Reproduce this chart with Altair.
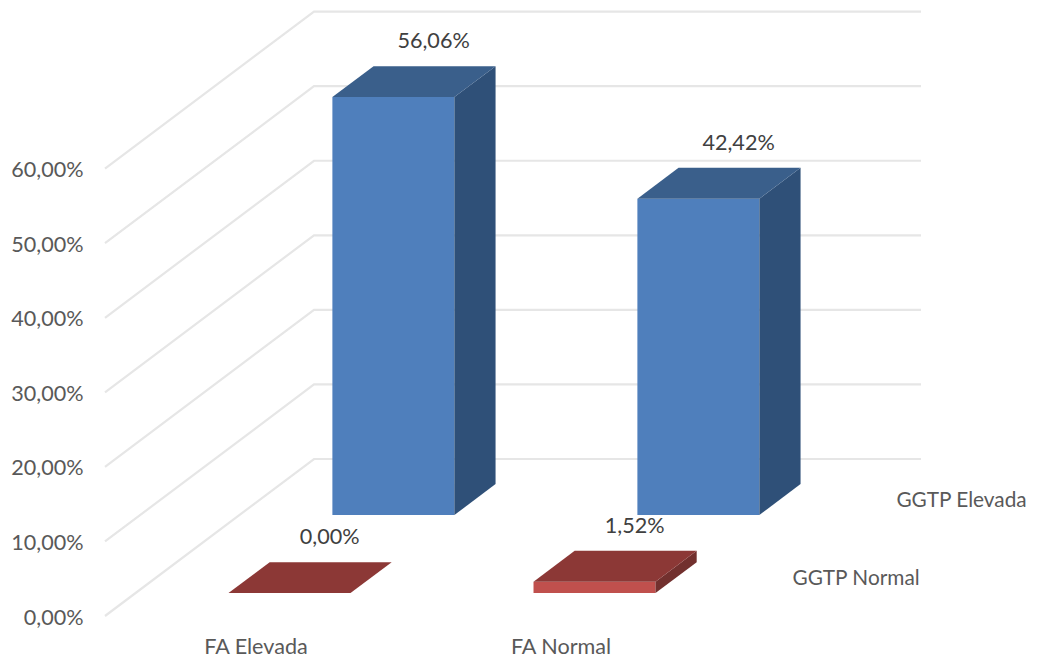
import altair as alt
import pandas as pd

# values
categories = ["FA Elevada", "FA Normal"]
series = ["GGTP Normal", "GGTP Elevada"]
normal_values = [0.00, 1.52]
elevada_values = [56.06, 42.42]
axis_ticks = [0, 10, 20, 30, 40, 50, 60]

# oblique projection of the 3-D scene
PX_PER_PCT = 7.456
FLOOR_Y = 616
WALL_DX, WALL_DY = 209, 157
FLOOR_LEFT, RIGHT_END = 105, 921
CAT_X = [198, 503]
BAR_W = 122
ROW_DEPTH = [0.146, 0.643]
BAR_DEPTH = 0.197
FONT = "Lato"
FONT_SIZE = 21.6
SERIES_FONT_SIZE = 20.8

def px(x, d):
    return x + WALL_DX * d

def val(v, d):
    return v + WALL_DY * d / PX_PER_PCT

faces = []
labels = []
PALETTE = [
    {"front": "#C0504D", "top": "#8C3836", "side": "#72302E"},
    {"front": "#4F7FBC", "top": "#3A5F8B", "side": "#2F5078"},
]

def add_face(fid, color, pts):
    for x, y, y2 in pts:
        faces.append({"fid": fid, "color": color, "x": x, "y": y, "y2": y2})

for r, vals in enumerate([normal_values, elevada_values]):
    d0 = ROW_DEPTH[r]
    d1 = d0 + BAR_DEPTH
    for c, v in enumerate(vals):
        xl, xr = CAT_X[c], CAT_X[c] + BAR_W
        key = f"{r}{c}"
        pal = PALETTE[r]
        if v > 0:
            add_face(key + "a", pal["front"], [
                (px(xl, d0), val(v, d0), val(0, d0)),
                (px(xr, d0), val(v, d0), val(0, d0)),
            ])
            add_face(key + "b", pal["side"], [
                (px(xr, d0), val(v, d0), val(0, d0)),
                (px(xr, d1), val(v, d1), val(0, d1)),
            ])
        add_face(key + "c", pal["top"], [
            (px(xl, d0), val(v, d0), val(v, d0)),
            (px(xl, d1), val(v, d1), val(v, d0)),
            (px(xr, d0), val(v, d1), val(v, d0)),
            (px(xr, d1), val(v, d1), val(v, d1)),
        ])
        labels.append({
            "x": px((xl + xr) / 2, d1),
            "y": val(v, d1),
            "t": f"{v:.2f}".replace(".", ",") + "%",
        })

grid = []
for v in axis_ticks:
    for i, (x, y) in enumerate([
        (FLOOR_LEFT, val(v, 0)),
        (FLOOR_LEFT + WALL_DX, val(v, 1)),
        (RIGHT_END, val(v, 1)),
    ]):
        grid.append({"v": v, "i": i, "x": x, "y": y})

cat_labels = [
    {"x": CAT_X[c] + BAR_W / 2 - 3, "y": -4.25, "t": t} for c, t in enumerate(categories)
]
ser_labels = [
    {"x": px(762, ROW_DEPTH[r]), "y": val(1.85, ROW_DEPTH[r]), "t": t} for r, t in enumerate(series)
]

X = alt.X("x:Q", scale=alt.Scale(domain=[92, 1029], nice=False, zero=False), axis=None)
Y = alt.Y(
    "y:Q",
    scale=alt.Scale(domain=[(FLOOR_Y - 658) / PX_PER_PCT, (FLOOR_Y - 8) / PX_PER_PCT], nice=False, zero=False),
    title=None,
    axis=alt.Axis(
        values=axis_ticks,
        labelExpr="replace(format(datum.value,'.2f'),'.',',')+'%'",
        domain=False,
        ticks=False,
        grid=False,
        labelPadding=9,
        labelOffset=2,
        labelFontSize=FONT_SIZE,
        labelFont=FONT,
        labelColor="#595959",
    ),
)

grid_layer = alt.Chart(pd.DataFrame(grid)).mark_line(
    color="#E6E6E6", strokeWidth=2.2, interpolate="linear"
).encode(x=X, y=Y, detail="v:N", order="i:Q")

face_layer = alt.Chart(pd.DataFrame(faces)).mark_area(interpolate="linear", opacity=1).encode(
    x=X,
    y=Y,
    y2="y2:Q",
    detail="fid:N",
    color=alt.Color("color:N", scale=None, legend=None),
)

data_text = alt.Chart(pd.DataFrame(labels)).mark_text(
    font=FONT, fontSize=FONT_SIZE, color="#404040", dy=-24, dx=-1
).encode(x=X, y=Y, text="t:N")

cat_text = alt.Chart(pd.DataFrame(cat_labels)).mark_text(
    font=FONT, fontSize=FONT_SIZE, color="#595959"
).encode(x=X, y=Y, text="t:N")

ser_text = alt.Chart(pd.DataFrame(ser_labels)).mark_text(
    font=FONT, fontSize=SERIES_FONT_SIZE, color="#595959", align="left"
).encode(x=X, y=Y, text="t:N")

chart = alt.layer(grid_layer, face_layer, data_text, cat_text, ser_text).properties(
    width=937,
    height=650,
    autosize=alt.AutoSizeParams(type="none"),
    padding={"left": 84, "top": 0, "right": 0, "bottom": 0},
).configure_view(stroke=None)

chart.save("out.html", embed_options={"renderer": "svg", "actions": False})
